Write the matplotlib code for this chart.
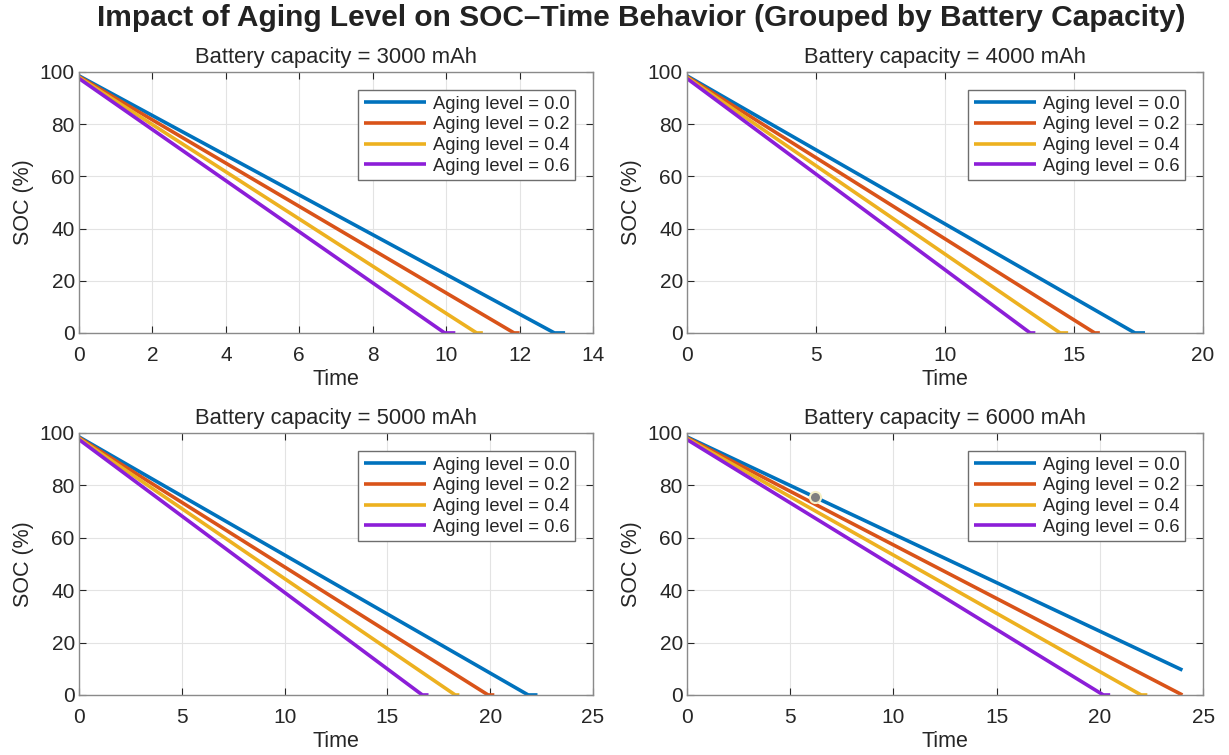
import numpy as np
import matplotlib
matplotlib.use("Agg")
import matplotlib.pyplot as plt

plt.rcParams['font.family'] = ['Liberation Sans', 'DejaVu Sans']

# battery capacities (one panel each) and aging levels (one line each)
capacities = [3000, 4000, 5000, 6000]
aging_levels = [0.0, 0.2, 0.4, 0.6]
colors = ['#0072BD', '#D95319', '#EDB120', '#8C1ED8']
x_limits = [14, 20, 25, 25]
x_steps = [2, 5, 5, 5]

# SOC at t=0 for each aging level
soc_start = [98.5, 98.2, 97.9, 97.5]

# time where SOC reaches 0, and last simulated time (per capacity, per aging level)
t_zero = {
    3000: [12.95, 11.85, 10.83, 9.96],
    4000: [17.36, 15.8, 14.46, 13.3],
    5000: [21.85, 19.9, 18.3, 16.7],
    6000: [24.0, 24.0, 22.0, 20.17],
}
t_end = {
    3000: [13.24, 12.0, 11.0, 10.25],
    4000: [17.75, 16.0, 14.77, 13.5],
    5000: [22.3, 20.2, 18.5, 17.0],
    6000: [24.0, 24.0, 22.3, 20.5],
}
# SOC at the last time (non-zero only when the run stopped early)
soc_end_6000 = [9.5, 0.0, 0.0, 0.0]

# data tip shown on the 6000 mAh plot
tip_t, tip_soc = 6.2, 75.7

fig = plt.figure(figsize=(12.29, 7.55), dpi=100)
positions = [
    [0.0643, 0.559, 0.4182, 0.3457],
    [0.559, 0.559, 0.4199, 0.3457],
    [0.0643, 0.0795, 0.4182, 0.347],
    [0.559, 0.0795, 0.4199, 0.347],
]

for k, cap in enumerate(capacities):
    ax = fig.add_axes(positions[k])
    for j, age in enumerate(aging_levels):
        if cap == 6000:
            tz = t_zero[cap][j]
            se = soc_end_6000[j]
            t = [0, tz, t_end[cap][j]]
            s = [soc_start[j], se if tz == t_end[cap][j] else 0, se]
        else:
            t = [0, t_zero[cap][j], t_end[cap][j]]
            s = [soc_start[j], 0, 0]
        ax.plot(t, s, color=colors[j], lw=2.6, solid_capstyle='butt',
                label=f'Aging level = {age:.1f}')
    if cap == 6000:
        ax.plot(tip_t, tip_soc, 'o', ms=8, mfc='#7f7f7f', mec='#f5f0c8', mew=1.5, zorder=5)

    ax.set_xlim(0, x_limits[k])
    ax.set_xticks(np.arange(0, x_limits[k] + 0.1, x_steps[k]))
    ax.set_ylim(0, 100)
    ax.set_yticks(np.arange(0, 101, 20))
    ax.grid(True, color='#e3e3e3', lw=0.8)
    ax.set_axisbelow(True)
    for sp in ax.spines.values():
        sp.set_color('#8a8a8a')
        sp.set_linewidth(1.0)
    ax.tick_params(direction='in', top=True, right=True, labelsize=15,
                   colors='#262626', length=5, width=0.8)
    ax.tick_params(axis='x', pad=9.5)
    ax.tick_params(axis='y', pad=3)
    ax.set_xlabel('Time', fontsize=15.5, color='#262626', labelpad=3)
    ax.set_ylabel('SOC (%)', fontsize=15.5, color='#262626', labelpad=4)
    ax.set_title(f'Battery capacity = {cap} mAh', fontsize=15.8, color='#262626', pad=6.5)
    leg = ax.legend(loc='upper right', fontsize=13.2, handlelength=3.4,
                    labelspacing=0.2, borderpad=0.3, handletextpad=0.35,
                    borderaxespad=1.0, fancybox=False, framealpha=1)
    leg.get_frame().set_edgecolor('#6e6e6e')
    leg.get_frame().set_linewidth(1.0)
    for txt in leg.get_texts():
        txt.set_color('#262626')

fig.suptitle('Impact of Aging Level on SOC\u2013Time Behavior (Grouped by Battery Capacity)',
             fontsize=21.5, fontweight='bold', color='#222222', x=0.5216, y=0.995)

fig.savefig('out.png', dpi=100, facecolor='white')
